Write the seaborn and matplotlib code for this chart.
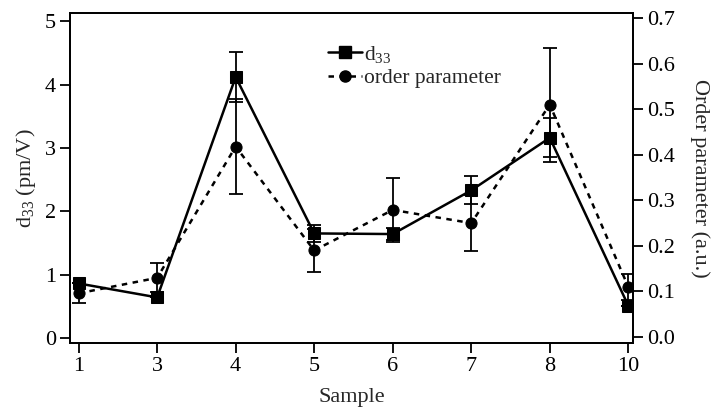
import matplotlib
matplotlib.use("Agg")
import matplotlib.pyplot as plt
import seaborn as sns
import pandas as pd
from matplotlib.lines import Line2D

samples = ["1", "3", "4", "5", "6", "7", "8", "10"]
d33 = [0.86, 0.64, 4.12, 1.65, 1.64, 2.33, 3.16, 0.51]
d33_err = [0.0, 0.0, 0.39, 0.13, 0.10, 0.22, 0.31, 0.0]
order_param = [0.096, 0.13, 0.418, 0.19, 0.279, 0.25, 0.51, 0.11]
order_err = [0.022, 0.032, 0.104, 0.047, 0.07, 0.062, 0.125, 0.028]

sns.set_theme(style="ticks")
plt.rcParams["font.family"] = ["Liberation Serif", "DejaVu Serif"]
plt.rcParams["mathtext.fontset"] = "custom"
plt.rcParams["mathtext.rm"] = "Liberation Serif"
plt.rcParams["mathtext.it"] = "Liberation Serif"

x = list(range(len(samples)))
df = pd.DataFrame({"x": x, "d33": d33, "op": order_param})

fig = plt.figure(figsize=(7.11, 4.08), dpi=100)
ax = fig.add_axes([70 / 711, 1 - 343 / 408, (633 - 70) / 711, (343 - 13) / 408])
ax2 = ax.twinx()

ax.errorbar(x, d33, yerr=d33_err, fmt="none", ecolor="black", elinewidth=1.3,
            capsize=5, capthick=1.3, zorder=3)
ax2.errorbar(x, order_param, yerr=order_err, fmt="none", ecolor="black", elinewidth=1.3,
             capsize=5, capthick=1.3, zorder=3)

ms = 8
sns.lineplot(data=df, x="x", y="d33", ax=ax, color="black", linewidth=1.8,
             marker="s", markersize=ms, markeredgecolor="black", zorder=4)
sns.lineplot(data=df, x="x", y="op", ax=ax2, color="black", linewidth=1.8,
             marker="o", markersize=ms, markeredgecolor="black", zorder=4)
ax2.lines[-1].set_dashes([2.2, 2.2])

ax.set_xlim(-0.11, 7.06)
ax.set_ylim(-0.08, 5.13)
ax2.set_ylim(-0.013, 0.711)

ax.set_xticks(x)
ax.set_xticklabels(samples)
ax.set_yticks([0, 1, 2, 3, 4, 5])
rt = [0.0, 0.1, 0.2, 0.3, 0.4, 0.5, 0.6, 0.7]
ax2.set_yticks(rt)
ax2.set_yticklabels([f"{v:.1f}" for v in rt])

fs = 16
ax.set_xlabel("Sample", fontsize=fs, labelpad=9)
ax.set_ylabel("d$_{33}$ (pm/V)", fontsize=fs, labelpad=5)
ax2.set_ylabel("Order parameter (a.u.)", fontsize=fs, rotation=270, labelpad=25)

for a in (ax, ax2):
    a.tick_params(axis="both", direction="out", length=7, width=1.3,
                  labelsize=fs, color="black", labelcolor="black", pad=3)
    for s in a.spines.values():
        s.set_linewidth(1.3)
        s.set_color("black")
    a.grid(False)

handles = [
    Line2D([], [], color="black", linewidth=1.8, marker="s", markersize=ms),
    Line2D([], [], color="black", linewidth=1.8, marker="o", markersize=ms,
           linestyle=(0, (2.2, 2.2))),
]
ax.legend(handles, ["d$_{33}$", "order parameter"], loc="upper left",
          bbox_to_anchor=(0.423, 0.965), frameon=False, fontsize=15.5,
          handlelength=1.6, handletextpad=0.1, labelspacing=0.15)

fig.savefig("out.png", dpi=100)
